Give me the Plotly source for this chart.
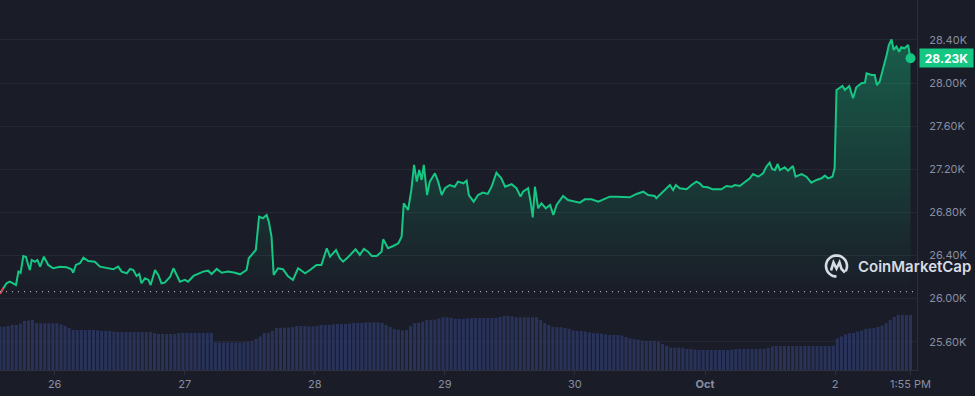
import math
from datetime import datetime, timedelta
import plotly.graph_objects as go

# ---------------- data ----------------
start_time = datetime(2023, 9, 25, 13, 55)

price_hours = [0, 0.6, 1.2, 1.8, 2.5, 2.95, 3.4, 3.8, 4.3, 4.8, 5.2, 5.5, 5.85, 6.45, 6.9, 7.4, 8.1, 8.9, 9.8, 11.1,
               12.3, 13.2, 13.5, 14.0, 14.75, 15.4, 16.3, 17.5, 18.45, 19.7, 20.9, 21.8, 22.45, 23.4, 24.0, 24.6, 25.2,
               25.7, 26.1, 26.75, 27.4, 27.8, 28.6, 29.2, 29.8, 30.4, 31.4, 32.0, 32.6, 33.2, 34.1, 34.7, 35.7, 36.6,
               37.5, 38.4, 39.05, 40.0, 40.9, 42.1, 43.35, 44.3, 45.5, 45.9, 46.7, 47.2, 47.8, 48.5, 49.2, 49.6, 50.1,
               50.5, 51.3, 52.2, 53.1, 54.05, 55.0, 56.3, 57.2, 58.4, 59.3, 60.3, 60.9, 61.4, 62.0, 62.7, 63.3, 64.2,
               64.9, 65.6, 66.4, 67.15, 67.9, 68.6, 69.5, 70.4, 70.7, 71.6, 72.55, 73.5, 74.1, 74.5, 75.3, 75.9, 76.4,
               76.9, 77.35, 77.8, 78.2, 78.8, 79.3, 80.25, 80.85, 81.5, 82.1, 83.0, 83.9, 84.5, 85.5, 86.1, 86.5, 87.4,
               88.2, 89.1, 90.0, 90.7, 91.6, 92.5, 93.2, 94.4, 95.3, 96.05, 96.5, 97.45, 97.9, 98.3, 98.7, 99.3, 99.9,
               100.7, 101.5, 102.1, 102.7, 103.9, 104.8, 106.1, 107.0, 107.9, 109.15, 110.4, 111.6, 112.5, 113.8,
               115.0, 116.2, 117.45, 118.7, 119.6, 120.8, 121.1, 122.1, 123.6, 124.2, 124.7, 125.4, 126.7, 127.6,
               128.5, 129.1, 129.7, 130.6, 131.5, 133.1, 134.05, 135.0, 135.6, 136.5, 137.4, 138.35, 138.95, 139.9,
               140.8, 141.4, 142.0, 142.5, 143.0, 143.5, 143.9, 144.8, 145.4, 146.3, 146.8, 147.9, 148.8, 149.7,
               150.65, 151.6, 152.2, 152.8, 153.6, 154.0, 154.35, 154.95, 155.45, 155.9, 156.7, 157.4, 158.0, 158.95,
               159.6, 159.9, 160.8, 161.4, 161.8, 162.3, 162.9, 163.6, 164.0, 164.5, 164.9, 165.4, 165.9, 166.3,
               166.9, 167.55, 168.0]

price_usd = [26045, 26098, 26142, 26157, 26142, 26126, 26250, 26238, 26395, 26386, 26312, 26265, 26358, 26342, 26358,
             26296, 26389, 26312, 26281, 26296, 26290, 26272, 26240, 26312, 26328, 26380, 26349, 26342, 26296, 26281,
             26272, 26296, 26250, 26235, 26275, 26265, 26210, 26228, 26142, 26188, 26173, 26126, 26265, 26219, 26142,
             26148, 26203, 26281, 26219, 26157, 26173, 26157, 26210, 26228, 26250, 26259, 26228, 26275, 26240, 26250,
             26240, 26225, 26265, 26374, 26420, 26451, 26760, 26745, 26776, 26714, 26574, 26219, 26281, 26272, 26210,
             26173, 26281, 26235, 26265, 26312, 26312, 26467, 26389, 26420, 26451, 26374, 26342, 26383, 26420, 26457,
             26405, 26460, 26435, 26395, 26395, 26435, 26550, 26467, 26488, 26513, 26574, 26884, 26822, 27008, 27240,
             27085, 27193, 27101, 27240, 26961, 27085, 27163, 27085, 26961, 27024, 27054, 27038, 27085, 27070, 27094,
             26961, 26899, 26961, 26983, 26971, 27038, 27168, 27116, 27038, 27061, 27024, 26946, 26992, 27024, 26899,
             26754, 27038, 26838, 26884, 26838, 26869, 26776, 26869, 26952, 26915, 26899, 26890, 26921, 26921, 26899,
             26924, 26946, 26946, 26946, 26940, 26971, 26992, 26961, 26952, 26931, 26977, 27054, 27008, 27054, 27024,
             27014, 27054, 27085, 27070, 27038, 27033, 27014, 27014, 27045, 27038, 27054, 27045, 27076, 27116, 27156,
             27131, 27163, 27224, 27261, 27200, 27193, 27249, 27193, 27218, 27187, 27231, 27131, 27156, 27131, 27076,
             27101, 27116, 27141, 27116, 27131, 27209, 27936, 27952, 27973, 27936, 27973, 27859, 27961, 27998, 28004,
             28091, 28075, 28075, 27982, 28013, 28122, 28261, 28353, 28406, 28307, 28338, 28291, 28332, 28323, 28353,
             28230]

open_price = 26065          # dotted reference line (price 7 days ago)
volume_interval_min = 45    # one volume bar every 45 minutes

volume_bn = [10.8, 10.8, 11.0, 11.25, 11.25, 11.6, 12.25, 12.4, 12.5, 11.75,
             11.7, 11.7, 11.7, 11.7, 11.7, 11.4, 11.0, 10.5, 10.0, 10.0,
             10.0, 10.0, 10.0, 10.0, 9.9, 9.75, 9.75, 9.75, 9.6, 9.5,
             9.5, 9.5, 9.5, 9.5, 9.5, 9.5, 9.5, 9.5, 9.25, 9.0,
             9.0, 9.0, 9.0, 9.0, 9.25, 9.3, 9.3, 9.3, 9.3, 9.3,
             9.3, 9.3, 9.3, 6.9, 6.9, 6.9, 6.9, 6.9, 6.9, 6.9,
             6.9, 7.0, 7.25, 7.75, 8.4, 9.25, 9.25, 9.75, 10.5, 10.6,
             10.6, 10.6, 10.75, 11.0, 11.0, 11.0, 10.9, 10.9, 11.0, 11.25,
             11.25, 11.25, 11.4, 11.5, 11.5, 11.5, 11.6, 11.75, 11.75, 11.75,
             11.9, 11.9, 11.9, 11.9, 11.75, 11.25, 10.75, 10.25, 10.1, 9.9,
             10.0, 11.0, 11.7, 11.75, 12.1, 12.5, 12.5, 12.6, 12.9, 13.2,
             13.2, 13.0, 12.8, 12.8, 12.8, 12.9, 13.0, 13.0, 13.0, 13.0,
             13.0, 13.0, 13.0, 13.25, 13.5, 13.5, 13.4, 13.2, 13.2, 13.2,
             13.2, 13.2, 13.2, 12.5, 11.7, 11.25, 10.75, 10.7, 10.7, 10.5,
             10.25, 9.9, 9.75, 9.75, 9.6, 9.4, 9.2, 9.2, 9.1, 8.9,
             8.75, 8.75, 8.75, 8.6, 8.25, 7.9, 7.75, 7.6, 7.4, 7.3,
             7.3, 7.3, 7.0, 6.5, 6.0, 5.6, 5.6, 5.6, 5.5, 5.25,
             5.25, 5.1, 5.0, 5.0, 5.0, 5.0, 5.0, 5.0, 5.0, 5.0,
             5.1, 5.25, 5.25, 5.25, 5.25, 5.25, 5.25, 5.25, 5.25, 5.5,
             5.9, 6.0, 6.0, 6.0, 6.0, 6.0, 6.0, 6.0, 6.0, 6.0,
             6.0, 6.0, 6.0, 6.0, 6.0, 6.1, 7.9, 8.4, 8.9, 9.2,
             9.25, 9.6, 9.9, 10.25, 10.4, 10.5, 10.75, 11.1, 11.7, 12.5,
             13.25, 13.75, 13.75, 13.75, 13.75]

y_tick_vals = [25600, 26000, 26400, 26800, 27200, 27600, 28000, 28400]
y_tick_text = ["25.60K", "26.00K", "26.40K", "26.80K", "27.20K", "27.60K", "28.00K", "28.40K"]

x_tick_vals = ["2023-09-26", "2023-09-27", "2023-09-28", "2023-09-29", "2023-09-30",
               "2023-10-01", "2023-10-02", "2023-10-02 13:55"]
x_tick_text = ["26", "27", "28", "29", "30", "<b>Oct</b>", "2", "1:55 PM"]

last_label = "28.23K"
brand = "CoinMarketCap"

# ---------------- styling ----------------
BG = "#1a1c27"
GREEN = "#16c784"
RED = "#ea3943"
GRID = "#262935"
AXIS = "#2c303d"
TICK_FONT = dict(family="Inter, Roboto, sans-serif", size=11, color="#878fa3")

W, H = 975, 396
M_L, M_R, M_T, M_B = 0, 58, 0, 26
PW, PH = W - M_L - M_R, H - M_T - M_B

price_times = [start_time + timedelta(hours=h) for h in price_hours]
vol_times = [start_time + timedelta(minutes=volume_interval_min * i) for i in range(len(volume_bn))]

x_end = price_times[-1] + timedelta(hours=1.2)

fig = go.Figure()

fig.add_trace(go.Bar(
    x=vol_times, y=volume_bn, yaxis="y2",
    marker=dict(color="rgba(42,52,92,0.92)", line=dict(width=0)),
    hoverinfo="skip",
))

fig.add_trace(go.Scatter(
    x=price_times, y=[open_price] * len(price_times),
    mode="lines", line=dict(width=0, color="rgba(0,0,0,0)"), hoverinfo="skip",
))

fig.add_trace(go.Scatter(
    x=price_times, y=price_usd, mode="lines",
    line=dict(color=GREEN, width=2),
    fill="tonexty",
    fillgradient=dict(type="vertical",
                      colorscale=[[0, "rgba(22,199,132,0.0)"], [1, "rgba(22,199,132,0.38)"]]),
    hoverinfo="skip",
))

fig.add_trace(go.Scatter(
    x=price_times[:2], y=price_usd[:2], mode="lines",
    line=dict(color=RED, width=2), hoverinfo="skip",
))

fig.add_trace(go.Scatter(
    x=[price_times[-1]], y=[price_usd[-1]], mode="markers",
    marker=dict(color=GREEN, size=10), hoverinfo="skip",
))

# dotted open-price line
fig.add_shape(type="line", xref="paper", x0=0, x1=1, yref="y", y0=open_price, y1=open_price,
              line=dict(color="#a3a9ba", width=1.3, dash="1px,5px"))

# ---- CoinMarketCap watermark ----
def px(xp):
    return xp / PW


def py(yp):
    return 1 - yp / PH


cx, cy, r = 836.5, 266.0, 10.5
arc_pts = []
for k in range(0, 41):
    a = math.radians(-30 + k * (300 / 40))
    arc_pts.append((cx + r * math.cos(a), cy - r * math.sin(a)))
path = "M " + " L ".join(f"{px(x):.5f},{py(y):.5f}" for x, y in arc_pts)
fig.add_shape(type="path", xref="paper", yref="paper", path=path,
              line=dict(color="#d7dbe3", width=2.6))
m_pts = [(-5.5, 4.5), (-3.0, -3.5), (0.0, 2.5), (3.0, -3.5), (5.0, 3.0), (8.5, 6.5)]
path2 = "M " + " L ".join(f"{px(cx + dx):.5f},{py(cy + dy):.5f}" for dx, dy in m_pts)
fig.add_shape(type="path", xref="paper", yref="paper", path=path2,
              line=dict(color="#d7dbe3", width=2.6))

fig.add_annotation(xref="paper", yref="paper", x=px(856), y=py(266.5), xanchor="left", yanchor="middle",
                   text=brand, showarrow=False,
                   font=dict(family="Inter, Roboto, sans-serif", size=15, color="#d7dbe3", weight=600))

# price badge
fig.add_annotation(xref="paper", yref="y", x=1, xanchor="left", xshift=2, y=price_usd[-1], yanchor="middle",
                   text=f"<b>{last_label}</b>", showarrow=False, bgcolor=GREEN, width=51, height=16,
                   borderpad=1,
                   font=dict(family="Inter, Roboto, sans-serif", size=12, color="#ffffff"))

fig.update_layout(
    width=W, height=H,
    margin=dict(l=M_L, r=M_R, t=M_T, b=M_B, pad=0),
    paper_bgcolor=BG, plot_bgcolor=BG,
    showlegend=False, bargap=0.25,
    xaxis=dict(
        type="date", range=[start_time, x_end],
        tickvals=x_tick_vals, ticktext=x_tick_text,
        showgrid=False, zeroline=False,
        showline=True, linecolor=AXIS, linewidth=1,
        ticks="outside", ticklen=4, tickcolor=AXIS,
        tickfont=TICK_FONT,
    ),
    yaxis=dict(
        side="right", range=[25337, 28771],
        tickvals=y_tick_vals, ticktext=y_tick_text,
        showgrid=True, gridcolor=GRID, gridwidth=1, zeroline=False,
        showline=True, linecolor=AXIS, linewidth=1,
        ticks="", ticklabelstandoff=9,
        tickfont=TICK_FONT,
    ),
    yaxis2=dict(overlaying="y", range=[0, 92.5], visible=False),
)

fig.write_html("out.html", config={"displayModeBar": False},
               post_script="document.body.style.margin='0';")
